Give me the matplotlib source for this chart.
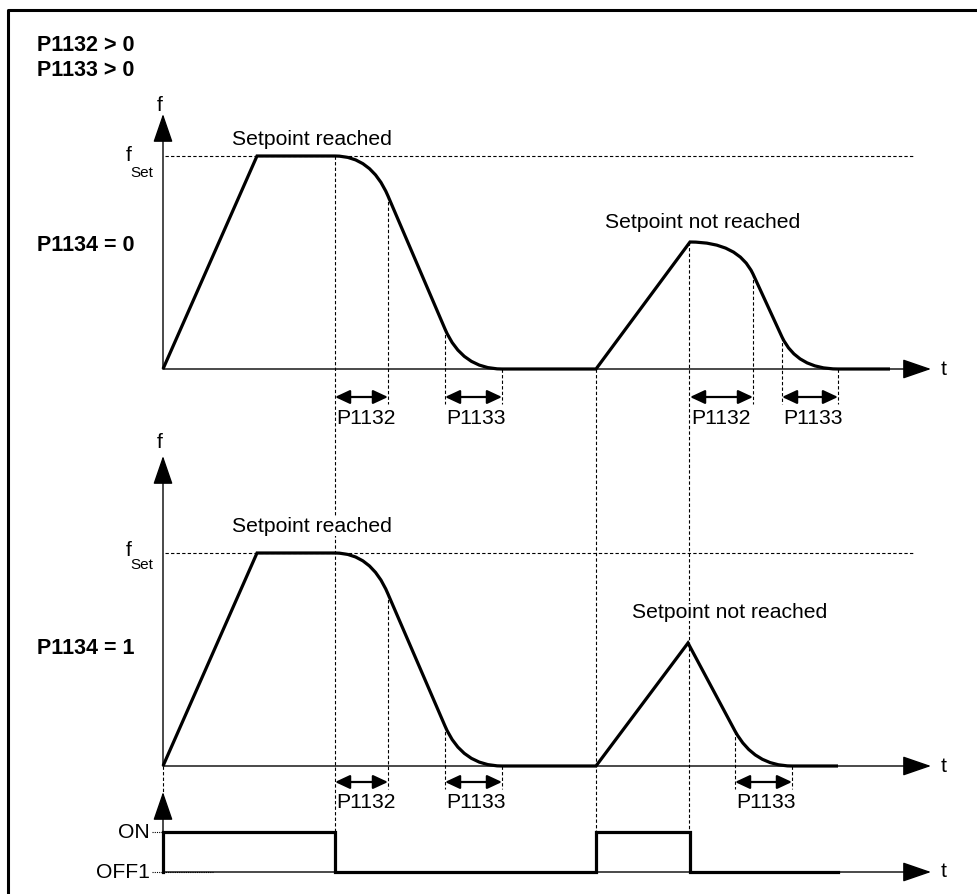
import matplotlib
matplotlib.use("Agg")
import matplotlib.pyplot as plt
from matplotlib.path import Path
from matplotlib.patches import PathPatch

plt.rcParams['font.family'] = ['Liberation Sans', 'DejaVu Sans']

# ---- data (t along the time axis, f measured up from the t axis) ----
# M = move, L = straight, Q = quadratic bend (control point, end point)
top_t = [163, 257, 335, 371, 388, 445, 462, 502, 596, 690, 738, 753, 782, 797, 838, 890]
top_f = [0, 213, 213, 213, 173, 40, 0, 0, 0, 127, 127, 95, 32, 0, 0, 0]
top_code = "MLLQQLQQLLQQLQQL"

low_t = [163, 257, 335, 371, 388, 445, 462, 502, 596, 688, 735, 754, 792, 838]
low_f = [0, 213, 213, 213, 172, 40, 0, 0, 0, 123, 35, 0, 0, 0]
low_code = "MLLQQLQQLLLQQL"

f_set = 213

# ON/OFF1 command
sw_t = [163, 163, 335, 335, 596, 596, 690, 690, 838]
sw_on = [0, 1, 1, 0, 0, 1, 1, 0, 0]

# ramp-rounding times shown with dimension arrows
top_dims = [(335, 388, "P1132"), (445, 502, "P1133"), (690, 753, "P1132"), (782, 838, "P1133")]
low_dims = [(335, 388, "P1132"), (445, 502, "P1133"), (735, 792, "P1133")]

# command edges, guide lines run through all panels
edges = [335, 596, 690]

# ---- layout ----
base_top, base_low = 370, 767
y_on, y_off = 833, 873
t_end = 931
fs = 15.2

fig = plt.figure(figsize=(9.77, 8.95), dpi=100)
ax = fig.add_axes([0, 0, 1, 1])
ax.set_xlim(0, 977)
ax.set_ylim(895, 0)
ax.axis("off")

# frame
ax.plot([8, 8, 977], [895, 10.5, 10.5], color="k", lw=2.2, solid_capstyle="butt")

dash = dict(color="k", lw=0.8, ls=(0, (3, 2)), zorder=1)


def axis_arrow(x0, y0, x1, y1):
    ax.annotate("", xy=(x1, y1), xytext=(x0, y0),
                arrowprops=dict(arrowstyle="-|>,head_length=0.9,head_width=0.31",
                                mutation_scale=20, lw=1.0, color="k",
                                shrinkA=0, shrinkB=0), zorder=2)


def dim_arrow(t0, t1, y):
    ax.annotate("", xy=(t1, y), xytext=(t0, y),
                arrowprops=dict(arrowstyle="<|-|>,head_length=0.6,head_width=0.28",
                                mutation_scale=15, lw=1.6, color="k",
                                shrinkA=0, shrinkB=0), zorder=3)


def curve(ts, fv, codes, base):
    cmap = {"M": Path.MOVETO, "L": Path.LINETO, "Q": Path.CURVE3}
    verts = [(t, base - f) for t, f in zip(ts, fv)]
    p = Path(verts, [cmap[c] for c in codes])
    ax.add_patch(PathPatch(p, fill=False, lw=2.3, ec="k", joinstyle="miter", zorder=4))


def lookup(ts, fv, t):
    return fv[ts.index(t)]


def dims(ts, fv, base, dlist, ya):
    for t0, t1, lab in dlist:
        for t in (t0, t1):
            if t not in edges:
                ax.plot([t, t], [base - lookup(ts, fv, t), ya + 7], **dash)
        dim_arrow(t0, t1, ya)
        ax.text(t0 + 1, ya + 20, lab, fontsize=fs, ha="left", va="center")


# ---------- top panel: P1134 = 0 ----------
axis_arrow(163, base_top, 163, 115)
axis_arrow(163, base_top, t_end, base_top)
ax.plot([165, 913], [base_top - f_set] * 2, **dash)
curve(top_t, top_f, top_code, base_top)
dims(top_t, top_f, base_top, top_dims, 398)

ax.text(160, 105, "f", fontsize=fs, ha="center", va="center")
ax.text(132, 155, "f", fontsize=fs, ha="right", va="center")
ax.text(130, 173, "Set", fontsize=11, ha="left", va="center")
ax.text(232, 139, "Setpoint reached", fontsize=fs, ha="left", va="center")
ax.text(605, 222, "Setpoint not reached", fontsize=fs, ha="left", va="center")
ax.text(941, base_top - 1, "t", fontsize=fs, ha="left", va="center")

# ---------- lower panel: P1134 = 1 ----------
axis_arrow(163, base_low, 163, 457)
axis_arrow(163, base_low, t_end, base_low)
ax.plot([165, 913], [base_low - f_set] * 2, **dash)
curve(low_t, low_f, low_code, base_low)
dims(low_t, low_f, base_low, low_dims, 783)

ax.text(160, 442, "f", fontsize=fs, ha="center", va="center")
ax.text(132, 550, "f", fontsize=fs, ha="right", va="center")
ax.text(130, 565, "Set", fontsize=11, ha="left", va="center")
ax.text(232, 527, "Setpoint reached", fontsize=fs, ha="left", va="center",
        bbox=dict(fc="white", ec="none", pad=0.5), zorder=2)
ax.text(632, 612, "Setpoint not reached", fontsize=fs, ha="left", va="center",
        bbox=dict(fc="white", ec="none", pad=0.5), zorder=2)
ax.text(941, base_low - 1, "t", fontsize=fs, ha="left", va="center")

# long guide lines across panels (OFF1 command / ON command)
ax.plot([edges[0]] * 2, [base_top - f_set, y_on], **dash)
ax.plot([edges[1]] * 2, [base_top, y_on], **dash)
ax.plot([edges[2] - 1] * 2, [base_top - lookup(top_t, top_f, 690), y_on], **dash)
ax.plot([163, 163], [base_low, 793], **dash)

# ---------- ON / OFF1 panel ----------
axis_arrow(163, y_off, 163, 793)
axis_arrow(163, y_off, t_end, y_off)
ax.plot([152, 213], [y_on, y_on], color="k", lw=0.8, ls=(0, (1, 1)), zorder=1)
ax.plot([152, 213], [y_off, y_off], color="k", lw=0.8, ls=(0, (1, 1)), zorder=1)
ax.plot(sw_t, [y_on if s else y_off for s in sw_on], color="k", lw=2.3,
        solid_joinstyle="miter", zorder=4)
ax.text(150, y_on, "ON", fontsize=fs, ha="right", va="center")
ax.text(150, y_off, "OFF1", fontsize=fs, ha="right", va="center")
ax.text(941, y_off - 1, "t", fontsize=fs, ha="left", va="center")

# ---------- parameter labels ----------
for y, s in [(45, "P1132 > 0"), (70, "P1133 > 0"), (245, "P1134 = 0"), (649, "P1134 = 1")]:
    ax.text(37, y, s, fontsize=15.5, fontweight="bold", ha="left", va="center")

fig.savefig("out.png", dpi=100)
